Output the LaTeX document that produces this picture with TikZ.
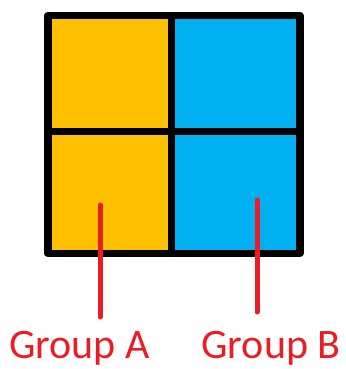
\documentclass[tikz,border=0pt]{standalone}
\usepackage{fontspec}
\setmainfont{Carlito}
\definecolor{cellyellow}{HTML}{FFC000}
\definecolor{cellblue}{HTML}{00B0F0}
\definecolor{labelred}{HTML}{EC1C24}
\begin{document}
\begin{tikzpicture}[x=1pt,y=-1pt,
  grid/.style={draw=black,line width=7.5pt,line join=round},
  pointer/.style={draw=labelred,line width=5pt,line cap=round},
  grouplabel/.style={text=labelred,anchor=base,inner sep=0pt,font=\fontsize{42}{50}\selectfont}]
\useasboundingbox (0,0) rectangle (345,369);
% cells
\node[fill=cellyellow,minimum width=123.5pt,minimum height=116pt,inner sep=0pt,anchor=north west] (c11) at (48,15.5) {};
\node[fill=cellblue,minimum width=128pt,minimum height=116pt,inner sep=0pt,anchor=north west] (c12) at (171.5,15.5) {};
\node[fill=cellyellow,minimum width=123.5pt,minimum height=121.5pt,inner sep=0pt,anchor=north west] (c21) at (48,131.5) {};
\node[fill=cellblue,minimum width=128pt,minimum height=121.5pt,inner sep=0pt,anchor=north west] (c22) at (171.5,131.5) {};
% grid lines
\draw[grid] (c11.north west) rectangle (c22.south east);
\draw[grid,line width=7pt] (c11.north east) -- (c21.south east);
\draw[grid,line width=7pt] (c11.south west) -- (c12.south east);
% labels
\node[grouplabel] (ga) at (79.5,358) {Group A};
\node[grouplabel] (gb) at (271,358) {Group B};
% pointers
\coordinate (pa1) at (100,205);
\coordinate (pa2) at (100,317);
\coordinate (pb1) at (257,200);
\coordinate (pb2) at (257,312);
\draw[pointer] (pa1) -- (pa2);
\draw[pointer] (pb1) -- (pb2);
\end{tikzpicture}
\end{document}
